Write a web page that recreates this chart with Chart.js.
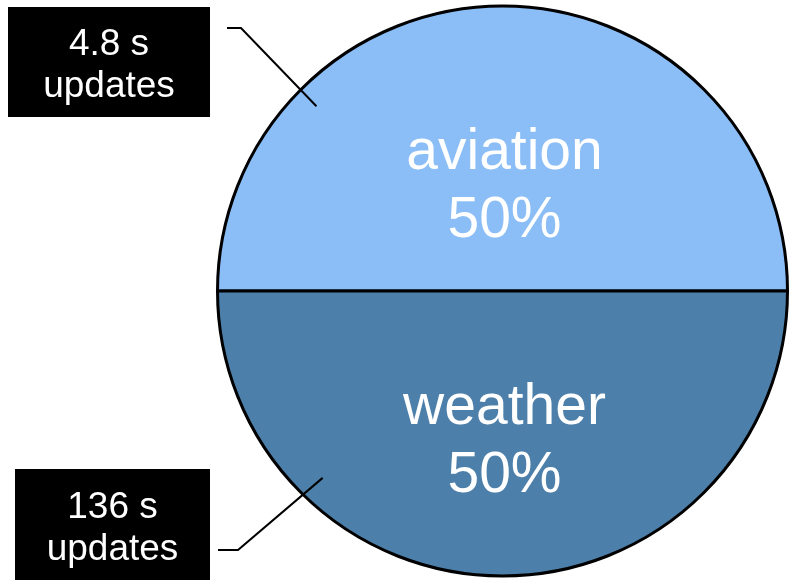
<!DOCTYPE html>
<html>
<head>
<meta charset="utf-8">
<script src="https://cdn.jsdelivr.net/npm/chart.js@4/dist/chart.umd.min.js"></script>
<style>
  html, body { margin: 0; padding: 0; background: #ffffff; }
  canvas { display: block; }
</style>
</head>
<body>
<canvas id="chart" width="789" height="580"></canvas>
<script>
// Share of traffic by category and the update interval of each feed
const categories = ['aviation', 'weather'];
const shares = [50, 50];
const updateSeconds = [4.8, 136];
const sliceColors = ['#8bbef6', '#4c7fa9'];

const FONT = "'Liberation Sans', Arial, Helvetica, sans-serif";

// Draws the in-slice name/percentage labels
const sliceLabels = {
  id: 'sliceLabels',
  afterDatasetsDraw(chart, args, opts) {
    const ctx = chart.ctx;
    const arcs = chart.getDatasetMeta(0).data;
    const values = chart.data.datasets[0].data;
    const total = values.reduce((a, b) => a + b, 0);
    ctx.save();
    ctx.fillStyle = '#ffffff';
    ctx.font = opts.fontSize + 'px ' + FONT;
    ctx.textAlign = 'center';
    ctx.textBaseline = 'alphabetic';
    arcs.forEach((arc, i) => {
      const p = arc.getProps(['x', 'y', 'startAngle', 'endAngle', 'outerRadius'], true);
      const mid = (p.startAngle + p.endAngle) / 2;
      const d = p.outerRadius * opts.radiusFraction[i];
      const ax = p.x + Math.cos(mid) * d + opts.dx;
      const ay = p.y + Math.sin(mid) * d;
      const pct = Math.round(values[i] / total * 100) + '%';
      ctx.fillText(chart.data.labels[i], ax, ay - opts.lineGap / 2);
      ctx.fillText(pct, ax, ay + opts.lineGap / 2);
    });
    ctx.restore();
  }
};

// Draws the black callout boxes with leader lines into each slice
const callouts = {
  id: 'callouts',
  afterDatasetsDraw(chart, args, opts) {
    const ctx = chart.ctx;
    const arcs = chart.getDatasetMeta(0).data;
    ctx.save();
    arcs.forEach((arc, i) => {
      const c = opts.items[i];
      const p = arc.getProps(['x', 'y', 'outerRadius'], true);
      const a = c.angle * Math.PI / 180;
      const tx = p.x + Math.cos(a) * p.outerRadius * c.reach;
      const ty = p.y + Math.sin(a) * p.outerRadius * c.reach;

      ctx.strokeStyle = '#000000';
      ctx.lineWidth = 2;
      ctx.beginPath();
      ctx.moveTo(c.lineStart[0], c.lineStart[1]);
      ctx.lineTo(c.elbow[0], c.elbow[1]);
      ctx.lineTo(tx, ty);
      ctx.stroke();

      ctx.fillStyle = '#000000';
      ctx.fillRect(c.box[0], c.box[1], c.box[2], c.box[3]);

      ctx.fillStyle = '#ffffff';
      ctx.font = opts.fontSize + 'px ' + FONT;
      ctx.textAlign = 'center';
      ctx.textBaseline = 'alphabetic';
      const cx = c.box[0] + c.box[2] / 2;
      const cy = c.box[1] + c.box[3] / 2;
      ctx.fillText(updateSeconds[i] + ' s', cx, cy - 7);
      ctx.fillText('updates', cx, cy + 35);
    });
    ctx.restore();
  }
};

new Chart(document.getElementById('chart'), {
  type: 'pie',
  data: {
    labels: categories,
    datasets: [{
      data: shares,
      backgroundColor: sliceColors,
      borderColor: '#000000',
      borderWidth: 3,
      hoverOffset: 0,
      offset: 0
    }]
  },
  options: {
    responsive: false,
    animation: false,
    rotation: -90,
    layout: { padding: { left: 216, right: 0, top: 4, bottom: 2 } },
    events: [],
    plugins: {
      legend: { display: false },
      tooltip: { enabled: false },
      sliceLabels: { fontSize: 57, lineGap: 68, dx: 2, radiusFraction: [0.31, 0.586] },
      callouts: {
        fontSize: 37,
        items: [
          { box: [8, 7, 202, 110], lineStart: [227, 28], elbow: [241, 28], angle: -135.2, reach: 0.92 },
          { box: [15, 469, 195, 111], lineStart: [218, 550], elbow: [238, 550], angle: 133.9, reach: 0.91 }
        ]
      }
    }
  },
  plugins: [sliceLabels, callouts]
});
</script>
</body>
</html>
